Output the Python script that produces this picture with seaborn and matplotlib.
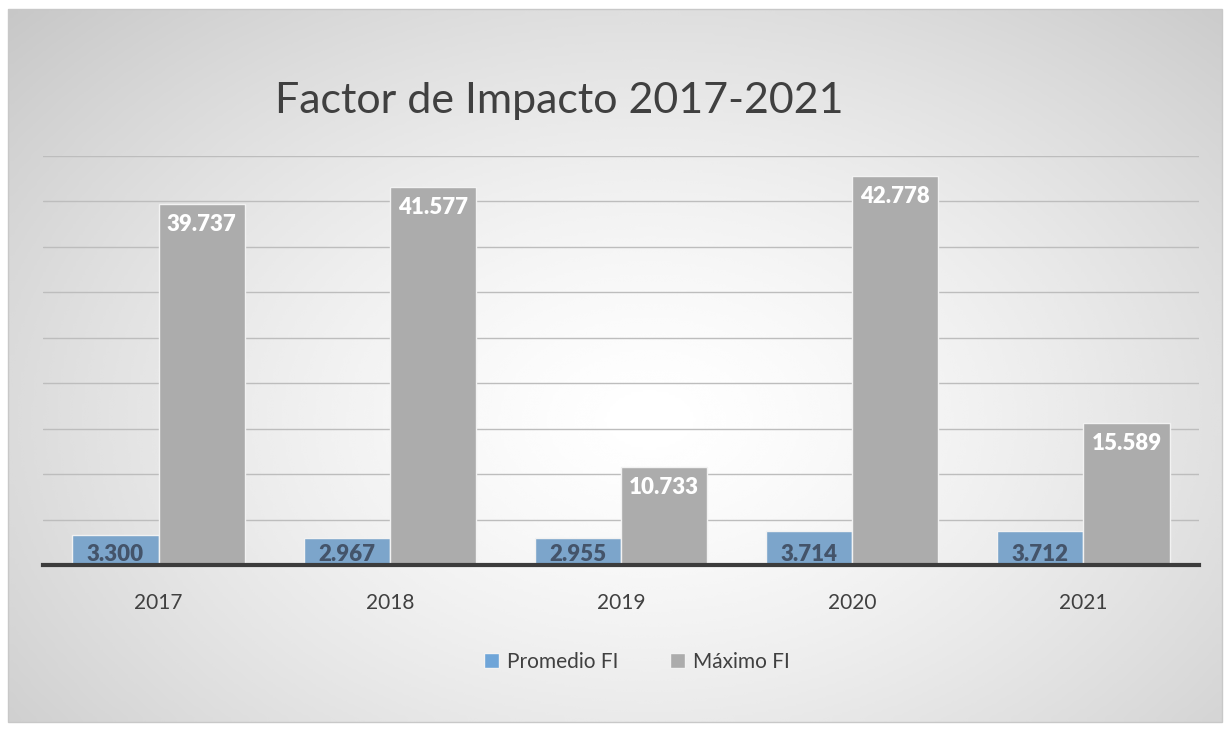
import numpy as np
import pandas as pd
import matplotlib.pyplot as plt
from matplotlib.patches import Rectangle
import seaborn as sns

years = ["2017", "2018", "2019", "2020", "2021"]
promedio_fi = [3.300, 2.967, 2.955, 3.714, 3.712]
maximo_fi = [39.737, 41.577, 10.733, 42.778, 15.589]
series_names = ["Promedio FI", "Máximo FI"]
series_colors = ["#6fa5d8", "#acacac"]

W, H = 1224, 729

sns.set_theme(style="white")
plt.rcParams["font.family"] = ["Lato", "DejaVu Sans"]

df = pd.DataFrame({
    "year": years * 2,
    "value": promedio_fi + maximo_fi,
    "serie": [series_names[0]] * len(years) + [series_names[1]] * len(years),
})

fig = plt.figure(figsize=(W / 100, H / 100), dpi=100)
fig.patch.set_facecolor("white")

# radial gradient background inside the chart border
bg = fig.add_axes([0, 0, 1, 1], zorder=-5)
bx0, by0, bx1, by1 = 8, 9, 1222, 722
xx, yy = np.meshgrid(np.linspace(bx0, bx1, 400), np.linspace(by0, by1, 250))
cx, cy = 650, 420
r = np.hypot((xx - cx) / 640, (yy - cy) / 440)
r = np.clip(r / r.max(), 0, 1)
shade = 1.0 - 0.22 * r ** 1.4
bg.imshow(shade, cmap="gray", vmin=0, vmax=1, extent=(bx0, bx1, by1, by0),
          aspect="auto", interpolation="bicubic")
bg.add_patch(Rectangle((bx0, by0), bx1 - bx0, by1 - by0, fill=False,
                       edgecolor="#c8c8c8", linewidth=1))
bg.set_xlim(0, W)
bg.set_ylim(H, 0)
bg.axis("off")

ax = fig.add_axes([43 / W, 1 - 565 / H, (1199 - 43) / W, (565 - 156) / H])
ax.set_facecolor("none")
sns.barplot(data=df, x="year", y="value", hue="serie", palette=series_colors,
            width=0.745, edgecolor="#f2f2f2", linewidth=1, ax=ax, legend=False,
            zorder=3)

ax.set_ylim(0, 45)
ax.set_yticks(np.arange(0, 46, 5))
ax.yaxis.grid(True, color="#bdbdbd", linewidth=1.0, zorder=0)
ax.set_axisbelow(True)
ax.tick_params(axis="y", left=False, labelleft=False)
ax.tick_params(axis="x", bottom=False, labelsize=15, colors="#404040", pad=14)
ax.set_xlabel("")
ax.set_ylabel("")
for side in ["top", "right", "left"]:
    ax.spines[side].set_visible(False)
ax.spines["bottom"].set_color("#3c3c3c")
ax.spines["bottom"].set_linewidth(3)
ax.spines["bottom"].set_zorder(5)

# data labels
for container, vals in zip(ax.containers, [promedio_fi, maximo_fi]):
    for bar, v in zip(container, vals):
        xc = bar.get_x() + bar.get_width() / 2
        if vals is promedio_fi:
            ax.text(xc, 0.05, f"{v:.3f}", ha="center", va="bottom",
                    fontsize=16, fontweight="heavy", color="#44546a", zorder=4)
        else:
            ax.text(xc, v - 1.1, f"{v:.3f}", ha="center", va="top",
                    fontsize=16, fontweight="heavy", color="white", zorder=6)

fig.text(559 / W, 1 - 101 / H, "Factor de Impacto 2017-2021", ha="center",
         va="center", fontsize=31, color="#404040")

# legend
handles = [Rectangle((0, 0), 1, 1, facecolor=c, edgecolor="#f2f2f2") for c in series_colors]
fig.legend(handles, series_names, loc="center", bbox_to_anchor=(637 / W, 1 - 662 / H),
           ncol=2, frameon=False, fontsize=15, handlelength=0.7, handleheight=0.7,
           handletextpad=0.4, columnspacing=2.5, labelcolor="#404040")

fig.savefig("out.png", dpi=100)
